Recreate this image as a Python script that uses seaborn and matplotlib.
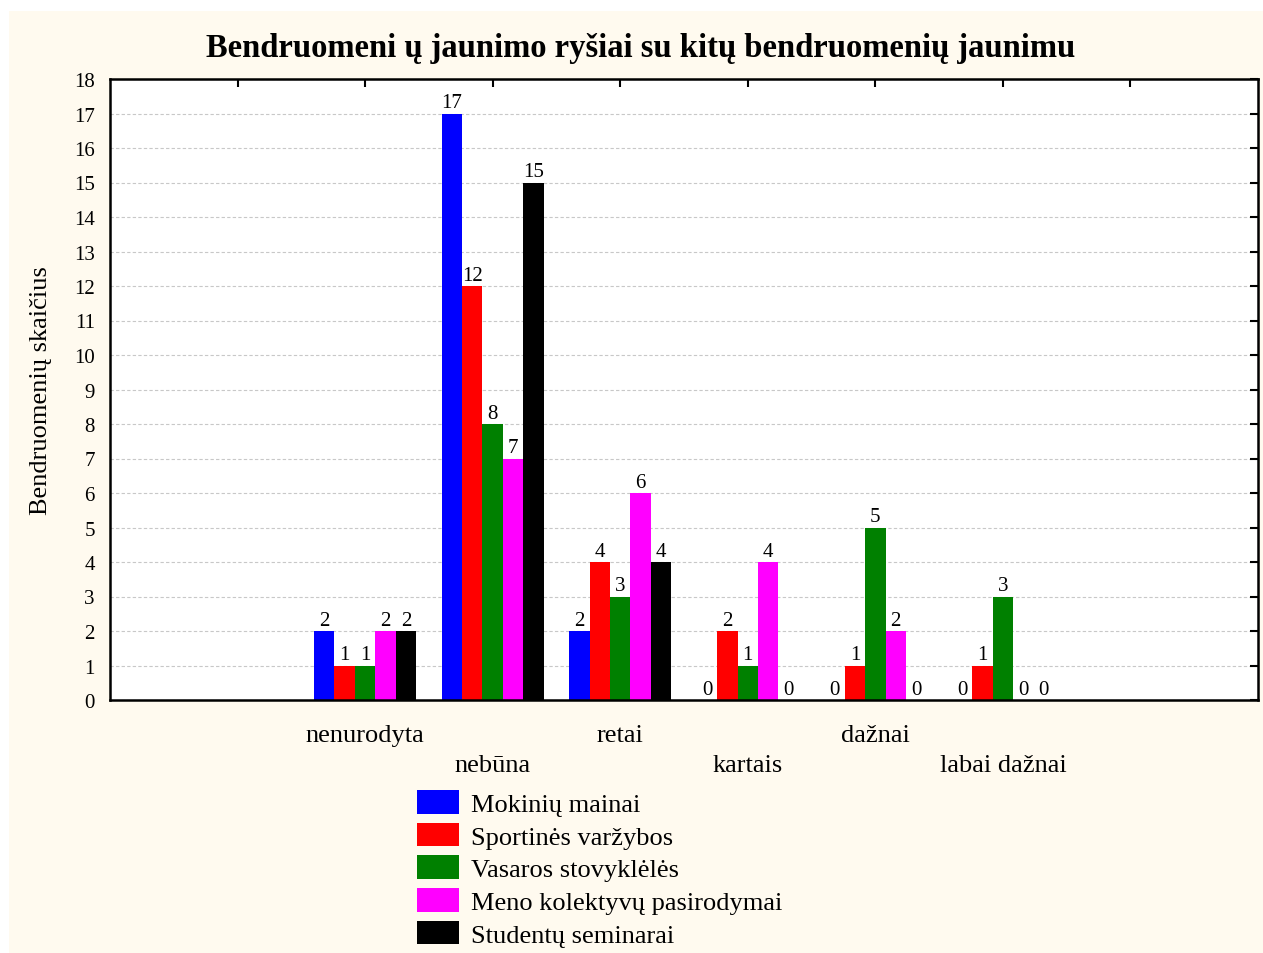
import numpy as np
import pandas as pd
import matplotlib
matplotlib.use("Agg")
import matplotlib.pyplot as plt
from matplotlib.patches import Rectangle
import seaborn as sns

categories = ["nenurodyta", "nebūna", "retai", "kartais", "dažnai", "labai dažnai"]
series = ["Mokinių mainai", "Sportinės varžybos", "Vasaros stovyklėlės",
          "Meno kolektyvų pasirodymai", "Studentų seminarai"]
mokiniu_mainai = [2, 17, 2, 0, 0, 0]
sportines_varzybos = [1, 12, 4, 2, 1, 1]
vasaros_stovykleles = [1, 8, 3, 1, 5, 3]
meno_kolektyvu = [2, 7, 6, 4, 2, 0]
studentu_seminarai = [2, 15, 4, 0, 0, 0]
colors = ["#0000ff", "#ff0000", "#008000", "#ff00ff", "#000000"]
y_ticks = list(range(0, 19))

values = [mokiniu_mainai, sportines_varzybos, vasaros_stovykleles, meno_kolektyvu, studentu_seminarai]
rows = []
for s, vals in zip(series, values):
    for c, v in zip(categories, vals):
        rows.append({"kat": c, "serija": s, "n": v})
df = pd.DataFrame(rows)

sns.set_theme(style="white")
plt.rcParams["font.family"] = ["Liberation Serif", "DejaVu Serif"]
plt.rcParams["text.color"] = "black"
plt.rcParams["axes.labelcolor"] = "black"
plt.rcParams["xtick.color"] = "black"
plt.rcParams["ytick.color"] = "black"

fig = plt.figure(figsize=(12.63, 9.54), dpi=100, facecolor="white")
fig.patches.append(Rectangle((9 / 1263, 0), 1, 1 - 12 / 954, transform=fig.transFigure,
                             facecolor="#fffaef", edgecolor="none", zorder=-10))
ax = fig.add_axes([110 / 1263, 1 - 701 / 954, (1258 - 110) / 1263, (701 - 80) / 954])
ax.set_facecolor("white")

sns.barplot(data=df, x="kat", y="n", hue="serija", order=categories, hue_order=series,
            palette=dict(zip(series, colors)), width=0.8, saturation=1, ax=ax,
            linewidth=0, errorbar=None)

for cont in ax.containers:
    ax.bar_label(cont, fmt="%d", padding=1, fontsize=15, color="black")

ax.set_xlim(-2, 7)
ax.set_ylim(0, 18)
ax.set_yticks(y_ticks)
ax.set_yticklabels([str(t) for t in y_ticks], fontsize=15)
ax.set_xticks(range(-1, 7))
xl = [""]
for i, c in enumerate(categories):
    xl.append(c if i % 2 == 0 else "\n" + c)
xl.append("")
ax.set_xticklabels(xl, fontsize=19, linespacing=1.5)
ax.set_xlabel("")
ax.set_ylabel("Bendruomenių skaičius", fontsize=19, labelpad=15.5)
ax.yaxis.grid(True, linestyle=(0, (3, 2)), color="#c8c8c8", linewidth=0.8)
ax.set_axisbelow(True)
ax.tick_params(axis="both", direction="in", top=True, right=True, length=6, width=1.5,
               color="black")
ax.tick_params(axis="y", pad=11)
ax.tick_params(axis="x", pad=17)
for sp in ax.spines.values():
    sp.set_visible(True)
    sp.set_color("black")
    sp.set_linewidth(1.8)

fig.suptitle("Bendruomeni ų jaunimo ryšiai su kitų bendruomenių jaunimu",
             fontsize=23.5, fontweight="bold", color="black",
             x=(205 + 1077) / 2 / 1263, y=1 - 49 / 954, va="center")

handles, labels = ax.get_legend_handles_labels()
ax.get_legend().remove()
fig.legend(handles, labels, loc="upper left", bbox_to_anchor=(417 / 1263, 1 - 791 / 954),
           frameon=False, fontsize=19, handlelength=1.6, handleheight=1.0,
           labelspacing=0.26, handletextpad=0.45, borderpad=0, borderaxespad=0)

fig.savefig("out.png", dpi=100, facecolor=fig.get_facecolor())
